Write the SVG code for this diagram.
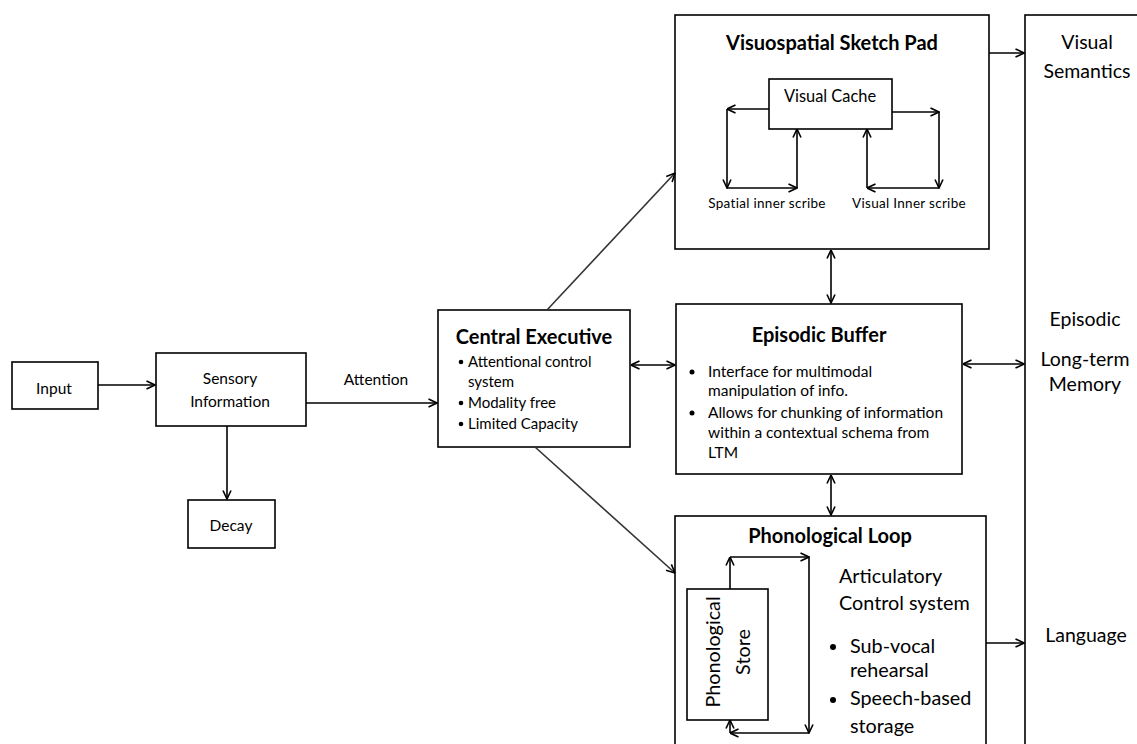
<svg xmlns="http://www.w3.org/2000/svg" width="1137" height="744" viewBox="0 0 1137 744">
  <style>
    .box { fill: #fff; stroke: #000; stroke-width: 1.6; }
    .ln { fill: none; stroke: #000; stroke-width: 1.6; }
    .diag { fill: none; stroke: #333; stroke-width: 1.6; }
    text { font-family: Lato, "Liberation Sans", sans-serif; fill: #000; }
    .title { font-weight: bold; font-size: 20px; text-anchor: middle; }
    .ce { font-size: 15px; }
    .eb { font-size: 15.5px; }
    .mid { text-anchor: middle; }
    .sm { font-size: 15.5px; }
    .tiny { font-size: 13.5px; letter-spacing: 0.3px; text-anchor: middle; }
    .big { font-size: 19.5px; text-anchor: middle; }
    .pl { font-size: 19.8px; }
  </style>
  <defs>
    <marker id="arr" viewBox="0 0 10 10" refX="9.5" refY="5" markerWidth="10" markerHeight="10" markerUnits="userSpaceOnUse" orient="auto-start-reverse">
      <path d="M1,1 L9.5,5 L1,9" fill="none" stroke="#000" stroke-width="1.6"/>
    </marker>
  </defs>

  <!-- long-term memory column -->
  <g id="ltm">
    <rect class="box" x="1025" y="15" width="200" height="800"/>
    <text class="big" x="1087" y="49">Visual</text>
    <text class="big" x="1087" y="78">Semantics</text>
    <text class="big" x="1085" y="326">Episodic</text>
    <text class="big" x="1085" y="366">Long-term</text>
    <text class="big" x="1085" y="391">Memory</text>
    <text class="big" x="1086" y="642">Language</text>
  </g>

  <g id="input">
    <rect class="box" x="12" y="362" width="86" height="47"/>
    <text class="sm mid" x="54" y="394">Input</text>
  </g>

  <g id="sensory">
    <rect class="box" x="156" y="353" width="150" height="73"/>
    <text class="sm mid" x="230" y="384">Sensory</text>
    <text class="sm mid" x="230" y="407">Information</text>
  </g>

  <g id="decay">
    <rect class="box" x="188" y="500" width="87" height="48"/>
    <text class="sm mid" x="231" y="531">Decay</text>
  </g>

  <g id="central-executive">
    <rect class="box" x="438" y="310" width="192" height="137"/>
    <text class="title" x="534" y="344">Central Executive</text>
    <circle cx="461" cy="362" r="2.3"/>
    <text class="ce" x="468" y="367">Attentional control</text>
    <text class="ce" x="468" y="387">system</text>
    <circle cx="461" cy="403" r="2.3"/>
    <text class="ce" x="468" y="408">Modality free</text>
    <circle cx="461" cy="424" r="2.3"/>
    <text class="ce" x="468" y="429">Limited Capacity</text>
  </g>

  <g id="episodic-buffer">
    <rect class="box" x="676" y="304" width="286" height="170"/>
    <text class="title" x="819" y="342">Episodic Buffer</text>
    <circle cx="692" cy="372" r="2.5"/>
    <text class="eb" x="708" y="377">Interface for multimodal</text>
    <text class="eb" x="708" y="396">manipulation of info.</text>
    <circle cx="692" cy="413" r="2.5"/>
    <text class="eb" x="708" y="418">Allows for chunking of information</text>
    <text class="eb" x="708" y="438">within a contextual schema from</text>
    <text class="eb" x="708" y="458">LTM</text>
  </g>

  <g id="sketch-pad">
    <rect class="box" x="675" y="15" width="314" height="234"/>
    <text class="title" x="832" y="50">Visuospatial Sketch Pad</text>
    <g id="visual-cache">
      <rect class="box" x="769" y="79" width="123" height="50"/>
      <text class="mid" x="830" y="102" font-size="16.4">Visual Cache</text>
    </g>
    <text class="tiny" x="767" y="208">Spatial inner scribe</text>
    <text class="tiny" x="909" y="208">Visual Inner scribe</text>
    <g id="scribe-loops">
      <path class="ln" d="M769,109 H727" marker-end="url(#arr)"/>
      <path class="ln" d="M727,109 V188" marker-end="url(#arr)"/>
      <path class="ln" d="M727,188 H797" marker-end="url(#arr)"/>
      <path class="ln" d="M797,188 V129" marker-end="url(#arr)"/>
      <path class="ln" d="M892,112 H939" marker-end="url(#arr)"/>
      <path class="ln" d="M939,112 V188" marker-end="url(#arr)"/>
      <path class="ln" d="M939,188 H867" marker-end="url(#arr)"/>
      <path class="ln" d="M867,188 V129" marker-end="url(#arr)"/>
    </g>
  </g>

  <g id="phonological-loop">
    <rect class="box" x="675" y="516" width="311" height="300"/>
    <text class="title" x="830" y="543">Phonological Loop</text>
    <g id="phonological-store">
      <rect class="box" x="687" y="589" width="81" height="131"/>
      <text class="pl mid" transform="translate(720,652) rotate(-90)">Phonological</text>
      <text class="pl mid" transform="translate(750,652) rotate(-90)">Store</text>
    </g>
    <g id="rehearsal-loop">
      <path class="ln" d="M730,589 V557" marker-end="url(#arr)"/>
      <path class="ln" d="M730,557 H809" marker-end="url(#arr)"/>
      <path class="ln" d="M809,557 V733" marker-end="url(#arr)"/>
      <path class="ln" d="M809,733 H730" marker-end="url(#arr)"/>
      <path class="ln" d="M730,733 V720" marker-end="url(#arr)"/>
    </g>
    <text class="pl" x="839" y="583">Articulatory</text>
    <text class="pl" x="839" y="610">Control system</text>
    <circle cx="833" cy="647" r="3"/>
    <text class="pl" x="850" y="653">Sub-vocal</text>
    <text class="pl" x="850" y="677">rehearsal</text>
    <circle cx="833" cy="700" r="3"/>
    <text class="pl" x="850" y="705">Speech-based</text>
    <text class="pl" x="850" y="733">storage</text>
  </g>

  <g id="connectors">
    <path class="ln" d="M98,385 H155" marker-end="url(#arr)"/>
    <path class="ln" d="M306,403 H437" marker-end="url(#arr)"/>
    <text class="sm mid" x="376" y="385">Attention</text>
    <path class="ln" d="M227,426 V499" marker-end="url(#arr)"/>
    <path class="diag" d="M547,310 L675,173" marker-end="url(#arr)"/>
    <path class="diag" d="M535,447 L675,573" marker-end="url(#arr)"/>
    <path class="ln" d="M631,365 H675" marker-start="url(#arr)" marker-end="url(#arr)"/>
    <path class="ln" d="M831,250 V303" marker-start="url(#arr)" marker-end="url(#arr)"/>
    <path class="ln" d="M831,475 V515" marker-start="url(#arr)" marker-end="url(#arr)"/>
    <path class="ln" d="M989,53 H1024" marker-end="url(#arr)"/>
    <path class="ln" d="M963,364 H1024" marker-start="url(#arr)" marker-end="url(#arr)"/>
    <path class="ln" d="M986,643 H1024" marker-end="url(#arr)"/>
  </g>
</svg>
